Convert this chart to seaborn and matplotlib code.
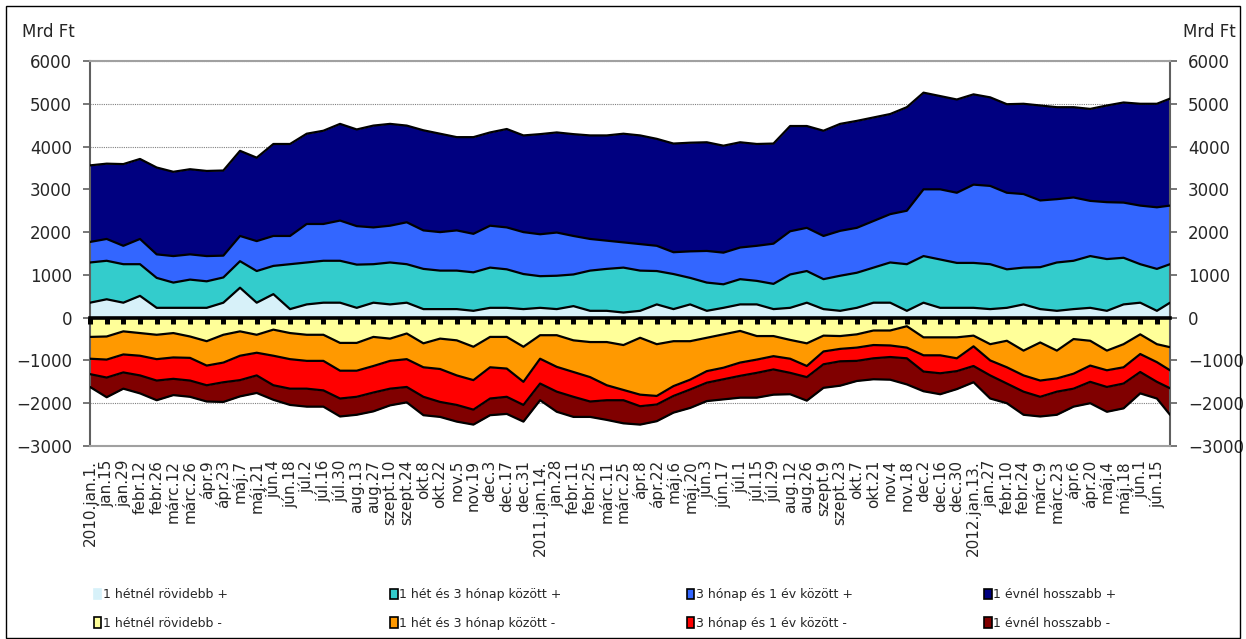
import numpy as np
import pandas as pd
import matplotlib
matplotlib.use("Agg")
import matplotlib.pyplot as plt
import matplotlib.patches as mpatches
import seaborn as sns

# Data ------------------------------------------------------------------------

tick_labels = [
    "2010.jan.1.", "jan.15", "jan.29", "febr.12", "febr.26", "márc.12", "márc.26",
    "ápr.9", "ápr.23", "máj.7", "máj.21", "jún.4", "jún.18", "júl.2", "júl.16",
    "júl.30", "aug.13", "aug.27", "szept.10", "szept.24", "okt.8", "okt.22",
    "nov.5", "nov.19", "dec.3", "dec.17", "dec.31",
    "2011.jan.14.", "jan.28", "febr.11", "febr.25", "márc.11", "márc.25",
    "ápr.8", "ápr.22", "máj.6", "máj.20", "jún.3", "jún.17", "júl.1", "júl.15",
    "júl.29", "aug.12", "aug.26", "szept.9", "szept.23", "okt.7", "okt.21",
    "nov.4", "nov.18", "dec.2", "dec.16", "dec.30",
    "2012.jan.13.", "jan.27", "febr.10", "febr.24", "márc.9", "márc.23",
    "ápr.6", "ápr.20", "máj.4", "máj.18", "jún.1", "jún.15",
]
tick_dates = pd.date_range("2010-01-01", periods=len(tick_labels), freq="14D")
last_date = pd.Timestamp("2012-06-26")
dates = tick_dates.append(pd.DatetimeIndex([last_date]))

# positive side (Mrd Ft), one value per tick date + last day
pos_short = [350, 430, 350, 510, 230, 230, 230, 230, 350, 700, 350, 550, 200, 310, 350,
             350, 230, 350, 310, 350, 200, 200, 200, 160, 230, 230, 200, 230, 200, 270,
             160, 160, 120, 160, 310, 200, 310, 160, 230, 310, 310, 200, 230, 350, 200,
             160, 230, 350, 350, 160, 350, 230, 230, 230, 200, 230, 310, 200, 160, 200,
             230, 160, 310, 350, 160, 350]
pos_3m = [940, 900, 900, 740, 700, 590, 660, 620, 590, 620, 740, 660, 1050, 980, 980,
          980, 1010, 900, 980, 900, 940, 900, 900, 900, 940, 900, 820, 740, 780, 740,
          940, 980, 1050, 940, 780, 820, 620, 660, 550, 590, 550, 590, 780, 740, 700,
          820, 820, 820, 940, 1090, 1090, 1130, 1050, 1050, 1050, 900, 860, 980, 1130, 1130,
          1210, 1210, 1090, 900, 980, 900]
pos_1y = [480, 510, 430, 590, 550, 620, 590, 590, 510, 590, 700, 700, 660, 900, 860,
          940, 900, 860, 860, 980, 900, 900, 940, 900, 980, 980, 980, 980, 1010, 900,
          740, 660, 590, 620, 590, 510, 620, 740, 740, 740, 820, 940, 1010, 1010, 1010,
          1050, 1050, 1090, 1130, 1250, 1560, 1640, 1640, 1830, 1830, 1790, 1720, 1560, 1480, 1480,
          1290, 1330, 1290, 1370, 1440, 1370]
pos_long = [1790, 1760, 1910, 1870, 2030, 1970, 1990, 1990, 1990, 1990, 1950, 2150, 2150, 2110, 2180,
            2260, 2260, 2380, 2380, 2260, 2340, 2300, 2180, 2260, 2180, 2300, 2260, 2340, 2340, 2380,
            2420, 2460, 2540, 2540, 2500, 2540, 2540, 2540, 2500, 2460, 2380, 2340, 2460, 2380, 2460,
            2500, 2500, 2420, 2340, 2420, 2260, 2180, 2180, 2110, 2070, 2070, 2110, 2220, 2150, 2110,
            2150, 2260, 2340, 2380, 2420, 2500]

# negative side
neg_short = [-450, -440, -320, -360, -400, -360, -440, -550, -400, -320, -400, -280, -360, -400, -400,
             -590, -590, -450, -490, -370, -600, -490, -530, -680, -450, -450, -680, -410, -410, -530,
             -570, -570, -640, -470, -620, -550, -550, -470, -390, -310, -430, -430, -520, -600, -420,
             -430, -390, -300, -300, -200, -460, -460, -460, -420, -620, -540, -770, -580, -770, -500,
             -540, -770, -620, -390, -620, -690]
neg_3m = [-510, -540, -540, -530, -570, -570, -500, -570, -650, -570, -420, -610, -610, -610, -610,
          -650, -650, -680, -520, -600, -560, -710, -820, -780, -710, -740, -820, -550, -740, -740,
          -820, -1010, -1050, -1330, -1210, -1050, -900, -780, -780, -740, -550, -470, -440, -530, -370,
          -300, -310, -340, -350, -500, -420, -420, -490, -250, -380, -620, -580, -890, -650, -810,
          -580, -460, -540, -460, -420, -540]
neg_1y = [-360, -420, -420, -460, -500, -500, -530, -460, -460, -570, -530, -690, -690, -650, -690,
          -650, -610, -620, -650, -650, -690, -770, -690, -690, -730, -660, -540, -580, -580, -580,
          -570, -350, -240, -270, -200, -230, -230, -270, -270, -310, -310, -310, -330, -260, -300,
          -290, -310, -310, -270, -250, -380, -420, -300, -460, -350, -380, -380, -380, -310, -350,
          -380, -390, -380, -420, -460, -420]
neg_long = [-300, -460, -380, -420, -460, -380, -380, -380, -460, -380, -410, -340, -380, -420, -380,
            -420, -420, -440, -390, -360, -430, -350, -390, -350, -390, -400, -390, -390, -470, -470,
            -360, -460, -540, -430, -390, -390, -430, -430, -470, -510, -580, -590, -500, -550, -550,
            -570, -470, -490, -530, -610, -460, -490, -420, -380, -540, -460, -540, -460, -540, -420,
            -500, -580, -580, -500, -390, -620]

pos_names = ["1 hétnél rövidebb +", "1 hét és 3 hónap között +",
             "3 hónap és 1 év között +", "1 évnél hosszabb +"]
neg_names = ["1 hétnél rövidebb -", "1 hét és 3 hónap között -",
             "3 hónap és 1 év között -", "1 évnél hosszabb -"]
pos_colors = ["#D7F1F9", "#33CCCC", "#3366FF", "#000080"]
neg_colors = ["#FFFF99", "#FF9900", "#FF0000", "#800000"]

# Plot ------------------------------------------------------------------------

sns.set_theme(style="white")
plt.rcParams["font.family"] = ["DejaVu Sans"]

W, H = 1246, 639
fig = plt.figure(figsize=(W / 100, H / 100), dpi=100)
ax = fig.add_axes([90 / W, 1 - 446 / H, (1170 - 90) / W, (446 - 61) / H])

edges = []
for series, colors in (([pos_short, pos_3m, pos_1y, pos_long], pos_colors),
                       ([neg_short, neg_3m, neg_1y, neg_long], neg_colors)):
    lower = np.zeros(len(dates))
    for vals, col in zip(series, colors):
        upper = lower + np.array(vals, dtype=float)
        ax.fill_between(dates, lower, upper, color=col, lw=0, zorder=2)
        edges.append(upper)
        lower = upper

edge_df = pd.DataFrame({
    "date": np.tile(dates, len(edges)),
    "value": np.concatenate(edges),
    "edge": np.repeat(np.arange(len(edges)), len(dates)),
})
sns.lineplot(data=edge_df, x="date", y="value", units="edge", estimator=None,
             color="black", lw=1.6, ax=ax, legend=False, zorder=3)

ax.set_xlim(dates[0], dates[-1])
ax.set_ylim(-3000, 6000)
ax.set_yticks(np.arange(-3000, 6001, 1000))
ax.set_xticks(tick_dates)
ax.set_xticklabels(tick_labels, rotation=90, fontsize=11)
ax.set_xlabel("")
ax.set_ylabel("")

ax.yaxis.grid(True, linestyle=(0, (1, 1)), color="#808080", lw=0.8)
ax.xaxis.grid(False)
ax.set_axisbelow(True)

ax.tick_params(axis="x", length=0, pad=10)
ax.tick_params(axis="y", direction="out", length=5, width=1.2, color="#606060",
               labelsize=12, pad=8, left=True, right=True, labelright=True)
for side in ("top", "bottom"):
    ax.spines[side].set_color("#A0A0A0")
    ax.spines[side].set_linewidth(1.5)
for side in ("left", "right"):
    ax.spines[side].set_color("#606060")
    ax.spines[side].set_linewidth(1.5)

# zero line with the category tick marks
zero_pos = 3000 / 9000
sec = ax.secondary_xaxis(zero_pos)
sec.set_zorder(10)
sec.set_xticks(tick_dates)
sec.tick_params(axis="x", labelbottom=False, labeltop=False, length=4, width=3.6,
                color="black", direction="out")
for sp in sec.spines.values():
    sp.set_color("black")
    sp.set_linewidth(2.6)

fig.text(22 / W, 1 - 32 / H, "Mrd Ft", fontsize=12, ha="left", va="center")
fig.text(1236 / W, 1 - 32 / H, "Mrd Ft", fontsize=12, ha="right", va="center")

# legend: four columns, positive on top row, negative below
col_x = [94, 390, 687, 984]
for i in range(4):
    handles = [
        mpatches.Patch(facecolor=pos_colors[i],
                       edgecolor=pos_colors[i] if i == 0 else "black", lw=1.2,
                       label=pos_names[i]),
        mpatches.Patch(facecolor=neg_colors[i], edgecolor="black", lw=1.2,
                       label=neg_names[i]),
    ]
    fig.legend(handles=handles, loc="center left",
               bbox_to_anchor=(col_x[i] / W, 1 - 609 / H), frameon=False,
               fontsize=9, handlelength=0.6, handleheight=0.9, handletextpad=0.15,
               labelspacing=1.25, borderpad=0, borderaxespad=0)

fig.patches.append(mpatches.Rectangle((6 / W, 1 / H), 1234 / W, 632 / H,
                                      transform=fig.transFigure, fill=False,
                                      edgecolor="black", lw=1))

fig.savefig("out.png", dpi=100)
